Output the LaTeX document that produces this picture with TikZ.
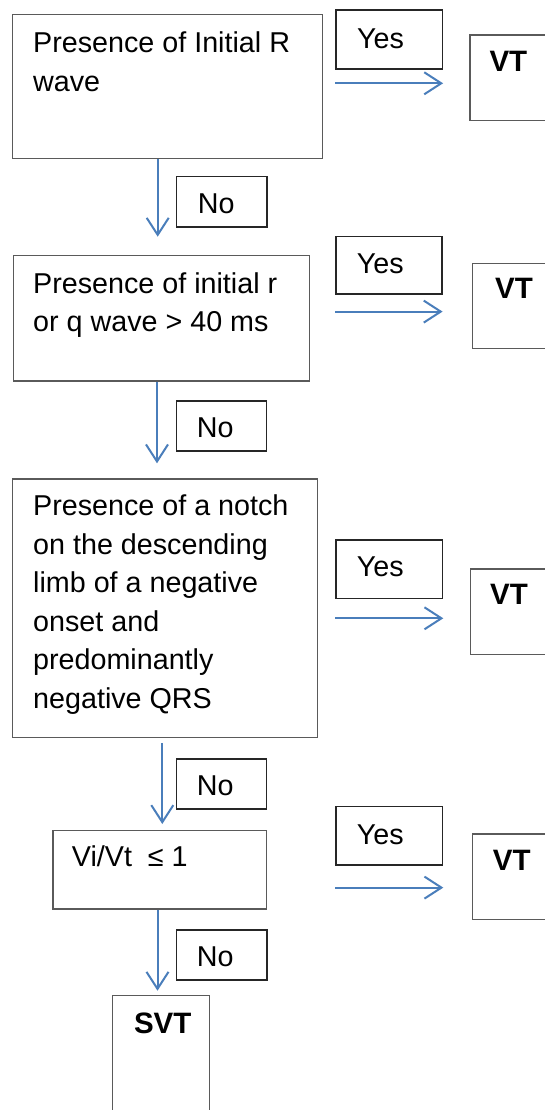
\documentclass[tikz,border=0pt]{standalone}
\usepackage{fontspec}
\setmainfont{Liberation Sans}
\usetikzlibrary{arrows.meta}
\definecolor{flowblue}{HTML}{4A7EBB}
\definecolor{frame}{HTML}{5A5A5A}
% multi-line text whose reference point is the first baseline
\newcommand{\toplines}[1]{\parbox[t]{290pt}{\raggedright #1}}
\begin{document}
\begin{tikzpicture}[x=1pt,y=-1pt,
  box/.style={draw=frame, line width=1.3pt, rectangle, inner sep=0pt, anchor=north west},
  tag/.style={draw=black!85, line width=1.6pt, rectangle, inner sep=0pt, anchor=north west},
  txt/.style={anchor=base west, inner sep=0pt,
              font=\fontsize{28.7}{38.5}\selectfont},
  bold/.style={txt, font=\fontsize{29.5}{38.5}\selectfont\bfseries},
  arr/.style={draw=flowblue, line width=2pt,
              -{Straight Barb[length=17pt,width=22pt,line width=2pt]}}]
\useasboundingbox (0,0) rectangle (545,1110);
\clip (0,0) rectangle (545,1110);

% decision boxes
\node[box, minimum width=309.7pt, minimum height=143.7pt] (q1) at (12,14) {};
\node[box, minimum width=295.5pt, minimum height=125.3pt] (q2) at (13,255) {};
\node[box, minimum width=305pt,   minimum height=258.2pt] (q3) at (12,478.3) {};
\node[box, minimum width=213.4pt, minimum height=78.3pt]  (q4) at (52.3,830) {};

\node[txt] (t1) at (33,52.7) {\toplines{Presence of Initial R\\wave}};
\node[txt] (t2) at (33,293) {\toplines{Presence of initial r\\or q wave > 40 ms}};
\node[txt] (t3) at (33,515.7) {\toplines{Presence of a notch\\on the descending\\limb of a negative\\onset and\\predominantly\\negative QRS}};
\node[txt] (t4) at (71.7,866.7) {Vi/Vt\ \ ≤ 1};

% outcome boxes
\node[box, minimum width=100pt, minimum height=85.7pt] (v1) at (469.3,34.3) {};
\node[box, minimum width=100pt, minimum height=85.5pt] (v2) at (471.7,262.5) {};
\node[box, minimum width=100pt, minimum height=85.4pt] (v3) at (470,568.3) {};
\node[box, minimum width=100pt, minimum height=85.7pt] (v4) at (471.7,833.3) {};
\node[box, minimum width=96.5pt, minimum height=150pt] (svt) at (112,995) {};

\node[bold] (vt1) at (489.3,71.7) {VT};
\node[bold] (vt2) at (495,298.3) {VT};
\node[bold] (vt3) at (490,604) {VT};
\node[bold] (vt4) at (492.7,870.7) {VT};
\node[bold] (svtt) at (133.8,1033.3) {SVT};

% Yes / No labels
\node[tag, minimum width=106.5pt, minimum height=58.8pt] (y1) at (335,9.5) {};
\node[tag, minimum width=106pt,   minimum height=57.6pt] (y2) at (335,235.7) {};
\node[tag, minimum width=106.7pt, minimum height=58.4pt] (y3) at (335,539.3) {};
\node[tag, minimum width=106.7pt, minimum height=58.3pt] (y4) at (335,805.7) {};

\node[txt] (ys1) at (357,48.3) {Yes};
\node[txt] (ys2) at (356.7,273.3) {Yes};
\node[txt] (ys3) at (356.7,576) {Yes};
\node[txt] (ys4) at (356.7,844) {Yes};

\node[tag, minimum width=90.5pt, minimum height=50.6pt] (n1) at (175.5,175.7) {};
\node[tag, minimum width=90pt,   minimum height=50pt]   (n2) at (175.7,400) {};
\node[tag, minimum width=90pt,   minimum height=49.7pt] (n3) at (175.7,758.3) {};
\node[tag, minimum width=90.5pt, minimum height=50pt]   (n4) at (175.5,929.3) {};

\node[txt] (ns1) at (197.7,213.3) {No};
\node[txt] (ns2) at (196.7,437.7) {No};
\node[txt] (ns3) at (196.7,795) {No};
\node[txt] (ns4) at (196.7,966.7) {No};

% "Yes" connectors
\draw[arr] ([yshift=-13.4pt]y1.south west) -- ([yshift=-13.4pt]y1.south east);
\draw[arr] ([yshift=-16.7pt]y2.south west) -- ([yshift=-16.7pt]y2.south east);
\draw[arr] ([yshift=-19pt]y3.south west) -- ([yshift=-19pt]y3.south east);
\draw[arr] ([yshift=-22pt]y4.south west) -- ([yshift=-22pt]y4.south east);

% "No" connectors
\coordinate (d1) at (157.7,236.7);
\coordinate (d2) at (157,463.3);
\coordinate (d3) at (162.3,824);
\coordinate (d4) at (157.5,990.7);
\draw[arr] (q1.south -| d1) -- (d1);
\draw[arr] (q2.south -| d2) -- (d2);
\draw[arr] ([yshift=-5pt]q3.south -| d3) -- (d3);
\draw[arr] (q4.south -| d4) -- (d4);
\end{tikzpicture}
\end{document}
